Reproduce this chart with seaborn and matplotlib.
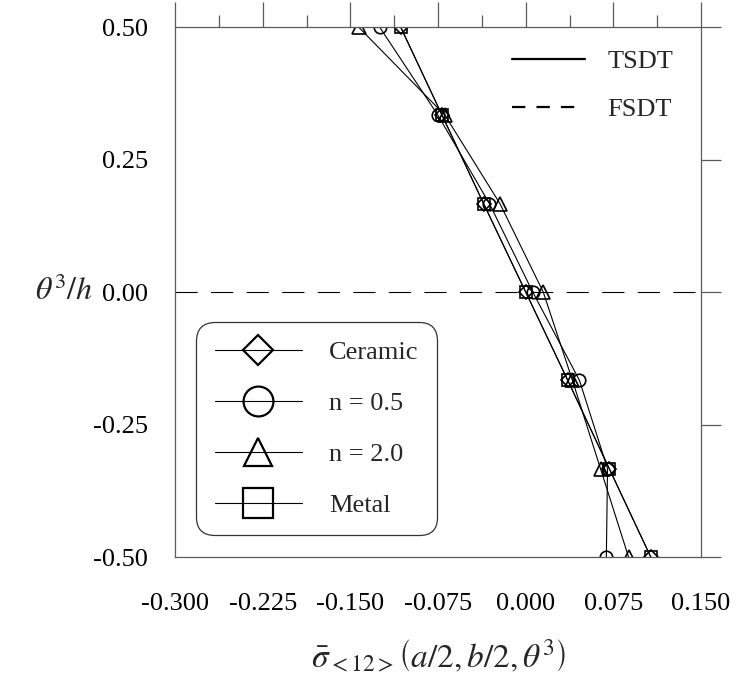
import numpy as np
import pandas as pd
import matplotlib
matplotlib.use("Agg")
import matplotlib.pyplot as plt
import seaborn as sns
from matplotlib.lines import Line2D
from matplotlib.ticker import FixedLocator, MultipleLocator

# ---- data ----
z_pos = [0.5, 1/3, 1/6, 0.0, -1/6, -1/3, -0.5]
ceramic = [-0.107, -0.0715, -0.036, 0.000, 0.036, 0.0715, 0.107]
n_05 = [-0.125, -0.075, -0.031, 0.006, 0.046, 0.070, 0.069]
n_20 = [-0.143, -0.069, -0.022, 0.015, 0.040, 0.064, 0.088]
metal = [-0.107, -0.0715, -0.036, 0.000, 0.036, 0.0715, 0.107]
series_names = ["Ceramic", "n = 0.5", "n = 2.0", "Metal"]
theory_names = ["TSDT", "FSDT"]
x_ticks = [-0.300, -0.225, -0.150, -0.075, 0.000, 0.075, 0.150]
y_ticks = [-0.50, -0.25, 0.00, 0.25, 0.50]

sns.set_theme(style="white")
plt.rcParams["font.family"] = ["Liberation Serif", "DejaVu Serif"]
plt.rcParams["mathtext.fontset"] = "stix"

fig = plt.figure(figsize=(7.36, 6.86), dpi=100)
ax = fig.add_axes([0.2378, 0.188, 0.7147, 0.7726])

markers = ["D", "o", "^", "s"]
msizes = [7, 9, 10, 8.5]
leg_sizes = [15.5, 21.5, 20.5, 21.5]
frames = []
for name, vals in zip(series_names, [ceramic, n_05, n_20, metal]):
    frames.append(pd.DataFrame({"stress": vals, "z": z_pos, "series": name}))
df = pd.concat(frames, ignore_index=True)

for name, mk, ms in zip(series_names, markers, msizes):
    sub = df[df["series"] == name]
    sns.lineplot(data=sub, x="stress", y="z", sort=False, estimator=None, ax=ax,
                 color="black", lw=0.8, marker=mk, markersize=ms,
                 markerfacecolor="none", markeredgecolor="black",
                 markeredgewidth=1.2, legend=False)

ax.axhline(0.0, color="black", lw=0.8, linestyle=(0, (20, 12)), zorder=1)

ax.set_xlim(-0.3, 0.15)
ax.set_ylim(-0.5, 0.5)
ax.xaxis.set_major_locator(FixedLocator(x_ticks))
ax.xaxis.set_minor_locator(MultipleLocator(0.0375))
ax.yaxis.set_major_locator(FixedLocator(y_ticks))
ax.set_xticklabels([f"{v:.3f}" for v in x_ticks])
ax.set_yticklabels([f"{v:.2f}" for v in y_ticks])

gray = "#5a5a5a"
for sp in ax.spines.values():
    sp.set_visible(True)
    sp.set_color(gray)
    sp.set_linewidth(0.9)
ax.tick_params(which="both", direction="out", top=True, right=True,
               labeltop=False, labelright=False, color=gray, width=0.9,
               labelsize=19, labelcolor="black")
ax.tick_params(axis="x", which="major", length=18, pad=8)
ax.tick_params(axis="x", which="minor", length=8.6)
ax.tick_params(axis="y", which="major", length=14.4, pad=5)
ax.grid(False)

ax.set_xlabel(r"$\bar{\sigma}_{<12>}\left(a/2,b/2,\theta^3\right)$", fontsize=24, labelpad=16)
ax.set_ylabel(r"$\theta^3/h$", fontsize=23, rotation=0, va="center", ha="center")
ax.yaxis.set_label_coords(-0.212, 0.5)

# marker legend
h1 = [Line2D([], [], color="black", lw=0.8, marker=mk, markersize=ls,
             markerfacecolor="none", markeredgecolor="black", markeredgewidth=1.6)
      for mk, ls in zip(markers, leg_sizes)]
leg1 = ax.legend(h1, series_names, loc="upper left", bbox_to_anchor=(0.040, 0.443),
                 borderaxespad=0, frameon=True, fancybox=True, fontsize=19,
                 handlelength=3.3, handletextpad=1.05, labelspacing=1.04, borderpad=0.7)
fr = leg1.get_frame()
fr.set_edgecolor("#333333")
fr.set_linewidth(0.9)
fr.set_facecolor("white")
fr.set_alpha(1)
fr.set_boxstyle("round", pad=0, rounding_size=0.7)
ax.add_artist(leg1)

h2 = [Line2D([], [], color="black", lw=1.6),
      Line2D([], [], color="black", lw=1.6, linestyle=(0, (6, 5)))]
leg2 = ax.legend(h2, theory_names, loc="upper left", bbox_to_anchor=(0.641, 0.957),
                 borderaxespad=0, borderpad=0, frameon=False, fontsize=19,
                 handlelength=2.77, handletextpad=0.83, labelspacing=0.91)

fig.savefig("out.png", dpi=100)
